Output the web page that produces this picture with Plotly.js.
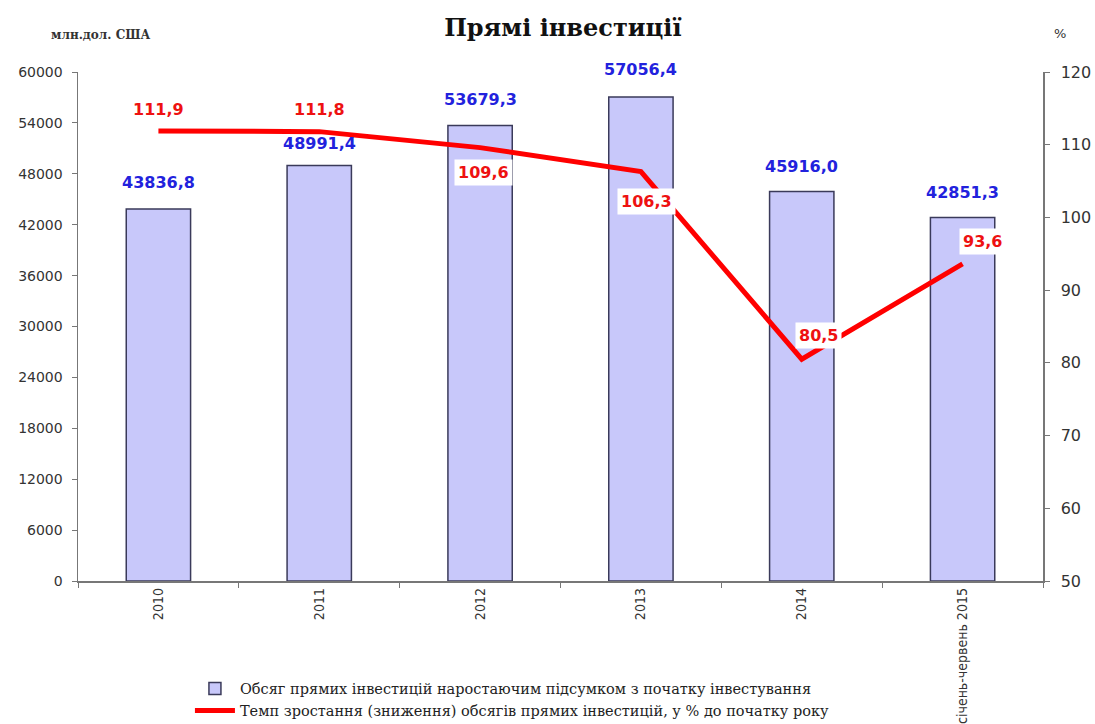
<!DOCTYPE html>
<html>
<head>
<meta charset="utf-8">
<script src="https://cdn.plot.ly/plotly-3.0.1.min.js"></script>
<style>html,body{margin:0;padding:0;background:#fff;}#chart{width:1095px;height:724px;}</style>
</head>
<body>
<div id="chart"></div>
<script>
const categories = ["2010", "2011", "2012", "2013", "2014", "січень-червень 2015"];
const investVolume = [43836.8, 48991.4, 53679.3, 57056.4, 45916.0, 42851.3];
const investLabels = ["43836,8", "48991,4", "53679,3", "57056,4", "45916,0", "42851,3"];
const growthRate = [111.9, 111.8, 109.6, 106.3, 80.5, 93.6];
const growthLabels = ["111,9", "111,8", "109,6", "106,3", "80,5", "93,6"];
const leftTicks = [0, 6000, 12000, 18000, 24000, 30000, 36000, 42000, 48000, 54000, 60000];
const rightTicks = [50, 60, 70, 80, 90, 100, 110, 120];
const seriesNames = [
  "Обсяг прямих інвестицій наростаючим підсумком з початку інвестування",
  "Темп зростання (зниження) обсягів прямих інвестицій, у % до початку року"
];

// label offsets (pixels) relative to the data point
const barLabelShift = [27, 22, 26, 27, 25, 25];
const lineLabelShift = [[0, 21], [0, 22], [3, -25], [6, -30], [17, 24], [20, 22]];

const traces = [
  {
    type: "bar", x: categories, y: investVolume, name: seriesNames[0],
    width: 0.4,
    marker: {color: "#c8c8fa", line: {color: "#3a3a5a", width: 1.5}},
    hoverinfo: "skip"
  },
  {
    type: "scatter", mode: "lines", x: categories, y: growthRate, yaxis: "y2",
    name: seriesNames[1],
    line: {color: "#ff0000", width: 5},
    hoverinfo: "skip"
  }
];

const labelFont = "DejaVu Sans, Verdana, sans-serif";
const annotations = [];
categories.forEach((c, i) => {
  annotations.push({
    x: i, y: investVolume[i], xref: "x", yref: "y", text: investLabels[i],
    showarrow: false, yshift: barLabelShift[i],
    font: {family: labelFont, size: 16, color: "#2222dd", weight: "bold"}
  });
});
categories.forEach((c, i) => {
  annotations.push({
    x: i, y: growthRate[i], xref: "x", yref: "y2", text: growthLabels[i],
    showarrow: false, xshift: lineLabelShift[i][0], yshift: lineLabelShift[i][1],
    bgcolor: "#ffffff", borderpad: 3,
    font: {family: labelFont, size: 16, color: "#ee1111", weight: "bold"}
  });
});
annotations.push({
  xref: "paper", yref: "paper", x: 0.023, y: 1.072, xanchor: "center", yanchor: "middle",
  text: "млн.дол. США", showarrow: false,
  font: {family: "DejaVu Serif, serif", size: 12, color: "#333", weight: "bold"}
});
annotations.push({
  xref: "paper", yref: "paper", x: 1.018, y: 1.076, xanchor: "center", yanchor: "middle",
  text: "%", showarrow: false,
  font: {family: "DejaVu Sans, sans-serif", size: 13, color: "#333"}
});

const layout = {
  width: 1095, height: 724,
  margin: {l: 78, r: 52, t: 72, b: 143, autoexpand: false},
  paper_bgcolor: "#ffffff", plot_bgcolor: "#ffffff",
  title: {
    text: "Прямі інвестиції", x: 0.514, xanchor: "center", y: 0.962, yanchor: "middle",
    font: {family: "DejaVu Serif, serif", size: 24, color: "#111", weight: "bold"}
  },
  showlegend: true,
  legend: {
    orientation: "v", x: 0.116, y: -0.18, xanchor: "left", yanchor: "top",
    font: {family: "DejaVu Serif, serif", size: 14.5, color: "#222"},
    tracegroupgap: 0, itemwidth: 40, bgcolor: "rgba(0,0,0,0)"
  },
  xaxis: {
    type: "category", range: [-0.5, 5.5], showgrid: false, zeroline: false,
    showline: true, linecolor: "#777", linewidth: 1.5,
    ticks: "outside", tickson: "boundaries", ticklen: 5, tickcolor: "#777",
    tickangle: -90, automargin: false,
    tickfont: {family: "Liberation Sans Narrow, Arial Narrow, DejaVu Sans Condensed, sans-serif", size: 14, color: "#333"}
  },
  yaxis: {
    range: [0, 60000], tickvals: leftTicks, tickformat: "d", showgrid: false, zeroline: false,
    showline: true, linecolor: "#777", linewidth: 1.5,
    ticks: "outside", ticklen: 5, tickcolor: "#777", automargin: false,
    ticklabelstandoff: 6,
    tickfont: {family: "DejaVu Sans, sans-serif", size: 14, color: "#333"}
  },
  yaxis2: {
    range: [50, 120], tickvals: rightTicks, overlaying: "y", side: "right",
    showgrid: false, zeroline: false,
    showline: true, linecolor: "#777", linewidth: 1.5,
    ticks: "outside", ticklen: 5, tickcolor: "#777", automargin: false,
    ticklabelstandoff: 8,
    tickfont: {family: "DejaVu Sans, sans-serif", size: 16, color: "#333"}
  },
  annotations: annotations
};

Plotly.newPlot("chart", traces, layout, {displayModeBar: false, staticPlot: true});
</script>
</body>
</html>
